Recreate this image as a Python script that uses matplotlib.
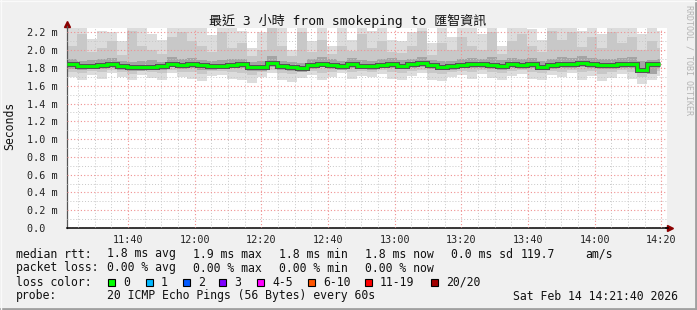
"""SmokePing style latency graph: last 3 hours to 匯智資訊."""

import matplotlib
matplotlib.use("Agg")
import matplotlib.pyplot as plt
import matplotlib.dates as mdates
import pandas as pd
from matplotlib.patches import Rectangle
from matplotlib.lines import Line2D
from matplotlib.ticker import FixedLocator, FixedFormatter

# ---- data (ms), one value per 3-minute bin from 11:21:40 ----
bin_starts = pd.date_range("2026-02-14 11:21:40", periods=60, freq="3min")
last_sample = pd.Timestamp("2026-02-14 14:19:40")

median = [1.845, 1.82, 1.825, 1.835, 1.84, 1.825, 1.815, 1.81, 1.815, 1.82, 1.85, 1.835, 1.84, 1.83, 1.825,
          1.825, 1.83, 1.84, 1.815, 1.815, 1.855, 1.82, 1.81, 1.795, 1.835, 1.85, 1.835, 1.82, 1.85, 1.825,
          1.82, 1.835, 1.845, 1.825, 1.84, 1.855, 1.83, 1.815, 1.82, 1.835, 1.845, 1.84, 1.83, 1.82, 1.84,
          1.83, 1.84, 1.815, 1.835, 1.845, 1.84, 1.855, 1.84, 1.835, 1.835, 1.845, 1.84, 1.775, 1.84, 1.84]

smoke_hi1 = [2.30, 2.26, 2.13, 2.22, 2.20, 2.10, 2.30, 2.26, 2.18, 2.12, 2.26, 2.30, 2.30, 2.28, 2.17,
             2.30, 2.26, 2.22, 2.02, 2.20, 2.30, 2.30, 2.00, 2.30, 2.10, 2.30, 2.05, 2.28, 2.12, 2.30,
             2.22, 2.30, 2.12, 2.10, 2.20, 2.30, 2.08, 2.25, 2.15, 2.30, 2.28, 2.18, 2.30, 2.05, 2.30,
             2.30, 2.24, 2.12, 2.30, 2.28, 2.30, 2.22, 2.30, 2.18, 2.30, 2.25, 2.30, 2.18, 2.30, 2.22]
smoke_lo1 = [1.70, 1.66, 1.72, 1.68, 1.74, 1.70, 1.66, 1.72, 1.69, 1.67, 1.74, 1.70, 1.68, 1.65, 1.71,
             1.72, 1.68, 1.66, 1.63, 1.70, 1.74, 1.67, 1.64, 1.69, 1.72, 1.66, 1.70, 1.74, 1.68, 1.71,
             1.70, 1.73, 1.68, 1.66, 1.71, 1.74, 1.67, 1.65, 1.70, 1.72, 1.68, 1.73, 1.69, 1.66, 1.71,
             1.73, 1.68, 1.66, 1.72, 1.70, 1.74, 1.67, 1.71, 1.65, 1.69, 1.73, 1.68, 1.62, 1.66, 1.71]
smoke_hi2 = [2.05, 2.18, 1.98, 2.02, 2.10, 1.95, 2.22, 2.05, 2.00, 1.96, 2.15, 2.20, 2.10, 2.05, 1.98,
             2.20, 2.02, 2.08, 1.94, 2.00, 2.25, 2.05, 1.93, 2.20, 1.98, 2.12, 1.96, 2.05, 1.99, 2.18,
             2.02, 2.10, 1.98, 1.97, 2.05, 2.22, 1.95, 2.08, 2.00, 2.15, 2.05, 2.00, 2.20, 1.96, 2.10,
             2.18, 2.05, 1.98, 2.22, 2.12, 2.20, 2.04, 2.15, 2.02, 2.20, 2.08, 2.15, 2.00, 2.10, 2.02]
smoke_lo2 = [1.76, 1.74, 1.77, 1.75, 1.78, 1.76, 1.73, 1.77, 1.75, 1.74, 1.78, 1.76, 1.75, 1.73, 1.77,
             1.77, 1.75, 1.74, 1.72, 1.76, 1.78, 1.74, 1.73, 1.75, 1.77, 1.74, 1.76, 1.78, 1.75, 1.77,
             1.76, 1.78, 1.75, 1.74, 1.77, 1.78, 1.74, 1.73, 1.76, 1.77, 1.75, 1.78, 1.76, 1.74, 1.77,
             1.78, 1.75, 1.74, 1.77, 1.76, 1.78, 1.75, 1.77, 1.73, 1.76, 1.78, 1.75, 1.70, 1.74, 1.77]
smoke_hi3 = [1.90, 1.88, 1.89, 1.90, 1.91, 1.88, 1.87, 1.88, 1.89, 1.87, 1.92, 1.90, 1.91, 1.89, 1.88,
             1.89, 1.90, 1.90, 1.87, 1.88, 1.93, 1.88, 1.87, 1.86, 1.90, 1.92, 1.90, 1.88, 1.91, 1.89,
             1.88, 1.90, 1.91, 1.89, 1.90, 1.92, 1.89, 1.88, 1.88, 1.90, 1.91, 1.90, 1.92, 1.89, 1.91,
             1.90, 1.91, 1.88, 1.90, 1.92, 1.91, 1.93, 1.91, 1.90, 1.90, 1.91, 1.92, 1.88, 1.89, 1.90]
smoke_lo3 = [1.79, 1.78, 1.79, 1.79, 1.80, 1.78, 1.77, 1.77, 1.78, 1.78, 1.81, 1.79, 1.80, 1.78, 1.78,
             1.79, 1.80, 1.80, 1.77, 1.77, 1.81, 1.78, 1.77, 1.76, 1.79, 1.81, 1.79, 1.78, 1.80, 1.79,
             1.78, 1.80, 1.80, 1.79, 1.80, 1.81, 1.79, 1.78, 1.78, 1.80, 1.80, 1.80, 1.79, 1.78, 1.80,
             1.79, 1.80, 1.78, 1.79, 1.80, 1.80, 1.81, 1.80, 1.79, 1.79, 1.80, 1.80, 1.74, 1.73, 1.80]

y_ticks = [0.0, 0.2, 0.4, 0.6, 0.8, 1.0, 1.2, 1.4, 1.6, 1.8, 2.0, 2.2]
y_labels = ["0.0  ", "0.2 m", "0.4 m", "0.6 m", "0.8 m", "1.0 m", "1.2 m",
            "1.4 m", "1.6 m", "1.8 m", "2.0 m", "2.2 m"]
x_labels = ["11:40", "12:00", "12:20", "12:40", "13:00", "13:20", "13:40", "14:00", "14:20"]

title = "最近 3 小時 from smokeping to 匯智資訊"
rtt_stats = ["median rtt:", "1.8 ms avg", "1.9 ms max", "1.8 ms min", "1.8 ms now", "0.0 ms sd", "119.7", "am/s"]
loss_stats = ["packet loss:", "0.00 % avg", "0.00 % max", "0.00 % min", "0.00 % now"]
loss_names = ["0", "1", "2", "3", "4-5", "6-10", "11-19", "20/20"]
loss_colors = ["#00ff00", "#00b8ff", "#0059ff", "#7e00ff", "#ff00ff", "#ff5500", "#ff0000", "#a10000"]
probe_text = "20 ICMP Echo Pings (56 Bytes) every 60s"
stamp = "Sat Feb 14 14:21:40 2026"

# ---- layout helpers (pixel coords, origin top-left) ----
W, H = 697, 310
MONO = "DejaVu Sans Mono"


def fx(x):
    return x / W


def fy(y):
    return 1 - y / H


fig = plt.figure(figsize=(W / 100, H / 100), dpi=100, facecolor="#f0f0f0")
ax = fig.add_axes([fx(67), fy(228), 600 / W, 200 / H])
ax.set_facecolor("white")

edges = mdates.date2num(list(bin_starts) + [last_sample])

# smoke, lightest outermost
ax.stairs(smoke_hi1, edges, baseline=smoke_lo1, fill=True, color="#dcdcdc", lw=0, zorder=1)
ax.stairs(smoke_hi2, edges, baseline=smoke_lo2, fill=True, color="#c8c8c8", lw=0, zorder=1.1)
ax.stairs(smoke_hi3, edges, baseline=smoke_lo3, fill=True, color="#a4a4a4", lw=0, zorder=1.2)
ax.stairs(median, edges, baseline=None, color="#555555", lw=3.6, zorder=3)
ax.stairs(median, edges, baseline=None, color="#00ff00", lw=2.1, zorder=3.1)

x0 = pd.Timestamp("2026-02-14 11:21:40")
x1 = pd.Timestamp("2026-02-14 14:21:40")
ax.set_xlim(mdates.date2num(x0), mdates.date2num(x1))
ax.set_ylim(0, 2.25)

major_x = mdates.date2num(pd.date_range("2026-02-14 11:40", periods=len(x_labels), freq="20min"))
minor_x = mdates.date2num(pd.date_range("2026-02-14 11:25", "2026-02-14 14:20", freq="5min"))
ax.xaxis.set_major_locator(FixedLocator(major_x))
ax.xaxis.set_major_formatter(FixedFormatter(x_labels))
ax.xaxis.set_minor_locator(FixedLocator(minor_x))
ax.yaxis.set_major_locator(FixedLocator(y_ticks))
ax.yaxis.set_major_formatter(FixedFormatter(y_labels))
ax.yaxis.set_minor_locator(FixedLocator([v / 10 for v in range(1, 23, 2)]))

ax.set_axisbelow(False)
ax.grid(which="minor", color="#c8c8c8", linestyle=(0, (1, 2)), lw=0.7)
ax.grid(which="major", color="#f09090", linestyle=(0, (1, 2)), lw=0.8)

ax.tick_params(which="both", length=0)
ax.tick_params(axis="x", pad=5, labelsize=7.3, labelfontfamily=MONO, colors="#222222")
ax.tick_params(axis="y", pad=7, labelsize=7.3, labelfontfamily=MONO, colors="#222222")

for side in ["top", "right"]:
    ax.spines[side].set_visible(False)
ax.spines["left"].set_color("#555555")
ax.spines["bottom"].set_color("black")
ax.spines["left"].set_bounds(0, 2.3)
ax.spines["left"].set_linewidth(0.9)
ax.spines["bottom"].set_linewidth(1.1)

# axis arrows
fig.add_artist(Line2D([fx(67)], [fy(24)], marker="^", ms=4, color="#8b0000", lw=0))
fig.add_artist(Line2D([fx(670)], [fy(228)], marker=">", ms=4, color="#8b0000", lw=0))
fig.add_artist(Line2D([fx(666), fx(668)], [fy(228), fy(228)], color="black", lw=1.1))
fig.add_artist(Line2D([fx(67), fx(67)], [fy(28), fy(26)], color="#555555", lw=0.9))

fig.text(fx(348), fy(21), title, ha="center", va="center", fontsize=9.4,
         family=[MONO, "Noto Sans CJK TC"], color="#111111")
fig.text(fx(10), fy(126), "Seconds", rotation=90, ha="center", va="center",
         fontsize=8.3, family=MONO, color="#111111")
fig.text(fx(689), fy(5), "RRDTOOL / TOBI OETIKER", rotation=-90, ha="center", va="top",
         fontsize=6, family=MONO, color="#b4b4b4")

# ---- legend block ----
LS = dict(fontsize=8.3, family=MONO, color="#111111", va="center", ha="left")
for txt, x in zip(rtt_stats, [16, 107, 193, 279, 365, 451, 521, 585]):
    fig.text(fx(x), fy(254), txt, **LS)
for txt, x in zip(loss_stats, [16, 107, 193, 279, 365]):
    fig.text(fx(x), fy(268), txt, **LS)
fig.text(fx(16), fy(282), "loss color:", **LS)
for name, col, x in zip(loss_names, loss_colors, [108, 146, 183, 219, 257, 308, 365, 431]):
    fig.add_artist(Rectangle((fx(x), fy(285.5)), 7 / W, 7 / H, facecolor=col,
                             edgecolor="black", lw=0.8, transform=fig.transFigure))
    fig.text(fx(x + 15), fy(282), name, **LS)
fig.text(fx(16), fy(296), "probe:", **LS)
fig.text(fx(107), fy(296), probe_text, **LS)
fig.text(fx(513), fy(296), stamp, **LS)

# 3D-ish frame
fig.add_artist(Line2D([0, 1], [fy(309), fy(309)], color="#a0a0a0", lw=2))
fig.add_artist(Line2D([fx(696), fx(696)], [0, 1], color="#a0a0a0", lw=2))
fig.add_artist(Line2D([0, 1], [fy(0.5), fy(0.5)], color="#fafafa", lw=1))
fig.add_artist(Line2D([fx(0.5), fx(0.5)], [0, 1], color="#fafafa", lw=1))

fig.savefig("out.png", dpi=100, facecolor=fig.get_facecolor())
